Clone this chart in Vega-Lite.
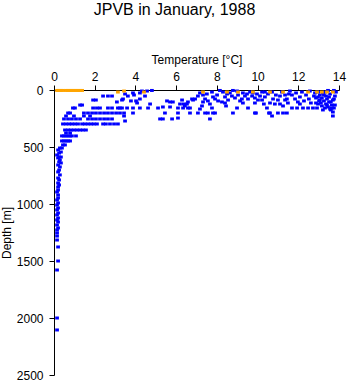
{
"$schema": "https://vega.github.io/schema/vega-lite/v6.json",
"width": 285, "height": 285,
"autosize": "none",
"padding": {"left": 54, "top": 90, "right": 9, "bottom": 9},
"background": "white",
"title": {"text": "JPVB in January, 1988", "font": "Liberation Sans", "fontSize": 16, "fontWeight": "normal", "color": "black", "anchor": "middle", "frame": "group", "dx": -22, "offset": 35},
"config": {"view": {"stroke": null}, "axis": {"grid": false, "domainColor": "black", "tickColor": "black", "labelColor": "black", "titleColor": "black", "labelFont": "Liberation Sans", "titleFont": "Liberation Sans", "labelFontSize": 12, "titleFontSize": 12, "titleFontWeight": "normal", "tickSize": 5, "domainWidth": 1, "tickWidth": 1}},
"data": {"values": [
{"T":0.29,"D":509,"c":"b"},{"T":0.39,"D":509,"c":"b"},{"T":0.20,"D":526,"c":"b"},{"T":0.34,"D":544,"c":"b"},{"T":0.25,"D":553,"c":"b"},{"T":0.15,"D":570,"c":"b"},{"T":0.25,"D":588,"c":"b"},{"T":0.34,"D":588,"c":"b"},{"T":0.20,"D":596,"c":"b"},{"T":0.29,"D":614,"c":"b"},{"T":0.25,"D":631,"c":"b"},{"T":0.34,"D":640,"c":"b"},{"T":0.20,"D":658,"c":"b"},{"T":0.29,"D":675,"c":"b"},{"T":0.25,"D":702,"c":"b"},{"T":0.20,"D":719,"c":"b"},{"T":0.29,"D":745,"c":"b"},{"T":0.20,"D":772,"c":"b"},{"T":0.25,"D":789,"c":"b"},{"T":0.20,"D":816,"c":"b"},{"T":0.25,"D":833,"c":"b"},{"T":0.20,"D":851,"c":"b"},{"T":0.20,"D":877,"c":"b"},{"T":0.15,"D":895,"c":"b"},{"T":0.20,"D":921,"c":"b"},{"T":0.20,"D":947,"c":"b"},{"T":0.15,"D":965,"c":"b"},{"T":0.20,"D":991,"c":"b"},{"T":0.15,"D":1009,"c":"b"},{"T":0.20,"D":1035,"c":"b"},{"T":0.15,"D":1052,"c":"b"},{"T":0.20,"D":1079,"c":"b"},{"T":0.15,"D":1096,"c":"b"},{"T":0.20,"D":1123,"c":"b"},{"T":0.15,"D":1140,"c":"b"},{"T":0.20,"D":1158,"c":"b"},{"T":0.15,"D":1184,"c":"b"},{"T":0.20,"D":1210,"c":"b"},{"T":0.15,"D":1228,"c":"b"},{"T":0.15,"D":1254,"c":"b"},{"T":0.15,"D":1281,"c":"b"},{"T":0.15,"D":1316,"c":"b"},{"T":0.20,"D":1377,"c":"b"},{"T":0.20,"D":1500,"c":"b"},{"T":0.15,"D":1579,"c":"b"},{"T":0.15,"D":2000,"c":"b"},{"T":0.15,"D":2105,"c":"b"},
{"T":0.39,"D":447,"c":"b"},{"T":0.49,"D":447,"c":"b"},{"T":0.59,"D":447,"c":"b"},{"T":0.69,"D":447,"c":"b"},{"T":0.79,"D":447,"c":"b"},{"T":0.44,"D":482,"c":"b"},{"T":0.54,"D":482,"c":"b"},{"T":0.39,"D":403,"c":"b"},{"T":0.49,"D":403,"c":"b"},{"T":0.59,"D":403,"c":"b"},{"T":0.69,"D":403,"c":"b"},{"T":0.79,"D":403,"c":"b"},{"T":0.88,"D":403,"c":"b"},{"T":1.08,"D":403,"c":"b"},
{"T":0.54,"D":351,"c":"b"},{"T":0.69,"D":351,"c":"b"},{"T":0.83,"D":351,"c":"b"},{"T":0.98,"D":351,"c":"b"},{"T":1.13,"D":351,"c":"b"},{"T":1.28,"D":351,"c":"b"},{"T":1.42,"D":351,"c":"b"},{"T":1.57,"D":351,"c":"b"},{"T":0.59,"D":377,"c":"b"},{"T":0.79,"D":377,"c":"b"},
{"T":0.44,"D":298,"c":"b"},{"T":0.59,"D":298,"c":"b"},{"T":0.74,"D":298,"c":"b"},{"T":0.88,"D":298,"c":"b"},{"T":1.03,"D":298,"c":"b"},{"T":1.18,"D":298,"c":"b"},{"T":1.38,"D":298,"c":"b"},{"T":1.52,"D":298,"c":"b"},{"T":1.67,"D":298,"c":"b"},{"T":1.82,"D":298,"c":"b"},{"T":1.96,"D":298,"c":"b"},{"T":2.11,"D":298,"c":"b"},{"T":2.41,"D":298,"c":"b"},{"T":2.55,"D":298,"c":"b"},{"T":2.75,"D":298,"c":"b"},{"T":2.95,"D":298,"c":"b"},{"T":3.14,"D":298,"c":"b"},
{"T":0.49,"D":254,"c":"b"},{"T":0.69,"D":254,"c":"b"},{"T":0.88,"D":254,"c":"b"},{"T":1.08,"D":254,"c":"b"},{"T":1.28,"D":254,"c":"b"},{"T":1.67,"D":254,"c":"b"},{"T":1.87,"D":254,"c":"b"},{"T":2.06,"D":254,"c":"b"},{"T":2.26,"D":254,"c":"b"},{"T":2.46,"D":254,"c":"b"},{"T":2.65,"D":254,"c":"b"},{"T":2.85,"D":254,"c":"b"},
{"T":0.59,"D":228,"c":"b"},{"T":0.98,"D":228,"c":"b"},{"T":1.47,"D":228,"c":"b"},{"T":1.77,"D":228,"c":"b"},{"T":3.44,"D":228,"c":"b"},{"T":3.49,"D":272,"c":"b"},
{"T":0.69,"D":202,"c":"b"},{"T":0.79,"D":202,"c":"b"},{"T":1.47,"D":202,"c":"b"},{"T":1.67,"D":202,"c":"b"},{"T":1.87,"D":202,"c":"b"},{"T":2.06,"D":202,"c":"b"},{"T":2.26,"D":202,"c":"b"},{"T":2.46,"D":202,"c":"b"},{"T":2.65,"D":202,"c":"b"},{"T":2.85,"D":202,"c":"b"},{"T":3.05,"D":202,"c":"b"},{"T":3.24,"D":202,"c":"b"},{"T":3.44,"D":202,"c":"b"},{"T":3.88,"D":202,"c":"b"},
{"T":0.93,"D":158,"c":"b"},{"T":1.03,"D":158,"c":"b"},{"T":1.92,"D":158,"c":"b"},{"T":2.11,"D":158,"c":"b"},{"T":2.26,"D":158,"c":"b"},{"T":2.65,"D":158,"c":"b"},{"T":2.85,"D":158,"c":"b"},{"T":3.14,"D":158,"c":"b"},{"T":3.34,"D":158,"c":"b"},
{"T":1.28,"D":132,"c":"b"},{"T":1.38,"D":132,"c":"b"},{"T":1.92,"D":88,"c":"b"},{"T":2.06,"D":88,"c":"b"},{"T":3.34,"D":88,"c":"b"},{"T":3.09,"D":105,"c":"b"},{"T":2.41,"D":53,"c":"b"},{"T":2.65,"D":53,"c":"b"},{"T":2.85,"D":53,"c":"b"},{"T":3.63,"D":53,"c":"b"},{"T":3.39,"D":79,"c":"b"},
{"T":3.88,"D":26,"c":"b"},{"T":4.22,"D":26,"c":"b"},{"T":4.32,"D":9,"c":"b"},{"T":4.57,"D":9,"c":"b"},{"T":4.81,"D":4,"c":"b"},{"T":3.49,"D":35,"c":"b"},{"T":3.93,"D":44,"c":"b"},{"T":4.47,"D":53,"c":"b"},{"T":4.22,"D":79,"c":"b"},{"T":4.03,"D":96,"c":"b"},{"T":3.78,"D":96,"c":"b"},{"T":4.08,"D":114,"c":"b"},{"T":4.72,"D":123,"c":"b"},
{"T":3.24,"D":158,"c":"b"},{"T":3.59,"D":158,"c":"b"},{"T":3.88,"D":158,"c":"b"},{"T":4.22,"D":158,"c":"b"},{"T":4.62,"D":158,"c":"b"},{"T":5.11,"D":158,"c":"b"},{"T":5.35,"D":149,"c":"b"},{"T":5.70,"D":149,"c":"b"},{"T":6.09,"D":158,"c":"b"},{"T":6.43,"D":140,"c":"b"},{"T":6.68,"D":158,"c":"b"},
{"T":5.55,"D":96,"c":"b"},{"T":5.70,"D":105,"c":"b"},{"T":5.84,"D":105,"c":"b"},{"T":6.29,"D":88,"c":"b"},{"T":6.58,"D":105,"c":"b"},{"T":6.83,"D":88,"c":"b"},{"T":5.45,"D":202,"c":"b"},{"T":6.09,"D":202,"c":"b"},{"T":6.68,"D":202,"c":"b"},{"T":5.21,"D":254,"c":"b"},{"T":5.35,"D":254,"c":"b"},{"T":5.80,"D":254,"c":"b"},{"T":6.09,"D":246,"c":"b"},
{"T":6.78,"D":79,"c":"b"},{"T":6.93,"D":79,"c":"b"},{"T":7.07,"D":53,"c":"b"},{"T":7.17,"D":26,"c":"b"},{"T":7.32,"D":44,"c":"b"},{"T":7.42,"D":79,"c":"b"},{"T":7.32,"D":105,"c":"b"},{"T":7.27,"D":140,"c":"b"},{"T":7.17,"D":167,"c":"b"},{"T":7.07,"D":202,"c":"b"},{"T":7.42,"D":202,"c":"b"},{"T":7.81,"D":202,"c":"b"},{"T":7.76,"D":158,"c":"b"},{"T":7.66,"D":254,"c":"b"},{"T":7.56,"D":96,"c":"b"},{"T":7.91,"D":79,"c":"b"},
{"T":8.15,"D":4,"c":"b"},{"T":8.30,"D":18,"c":"b"},{"T":8.50,"D":35,"c":"b"},{"T":8.64,"D":26,"c":"b"},{"T":8.74,"D":53,"c":"b"},{"T":8.55,"D":88,"c":"b"},{"T":8.25,"D":105,"c":"b"},{"T":8.06,"D":96,"c":"b"},{"T":8.40,"D":114,"c":"b"},{"T":8.89,"D":70,"c":"b"},{"T":9.14,"D":96,"c":"b"},{"T":9.04,"D":44,"c":"b"},{"T":8.79,"D":4,"c":"b"},{"T":9.38,"D":53,"c":"b"},{"T":9.53,"D":79,"c":"b"},{"T":9.63,"D":18,"c":"b"},{"T":9.77,"D":26,"c":"b"},{"T":9.87,"D":70,"c":"b"},{"T":10.02,"D":88,"c":"b"},{"T":10.12,"D":53,"c":"b"},{"T":10.22,"D":18,"c":"b"},{"T":9.87,"D":114,"c":"b"},{"T":8.79,"D":202,"c":"b"},{"T":8.99,"D":158,"c":"b"},{"T":9.53,"D":158,"c":"b"},{"T":9.87,"D":202,"c":"b"},{"T":9.28,"D":26,"c":"b"},
{"T":10.22,"D":88,"c":"b"},{"T":10.36,"D":61,"c":"b"},{"T":10.51,"D":35,"c":"b"},{"T":10.31,"D":123,"c":"b"},{"T":10.46,"D":158,"c":"b"},{"T":10.56,"D":202,"c":"b"},{"T":10.71,"D":228,"c":"b"},{"T":10.85,"D":123,"c":"b"},{"T":11.0,"D":88,"c":"b"},{"T":11.1,"D":53,"c":"b"},{"T":11.2,"D":18,"c":"b"},{"T":11.35,"D":44,"c":"b"},{"T":11.44,"D":79,"c":"b"},{"T":11.49,"D":114,"c":"b"},{"T":11.25,"D":140,"c":"b"},{"T":11.1,"D":123,"c":"b"},{"T":11.0,"D":202,"c":"b"},{"T":11.25,"D":202,"c":"b"},{"T":11.59,"D":9,"c":"b"},{"T":11.69,"D":44,"c":"b"},{"T":11.69,"D":158,"c":"b"},{"T":11.94,"D":158,"c":"b"},{"T":11.84,"D":79,"c":"b"},{"T":12.08,"D":61,"c":"b"},{"T":11.98,"D":105,"c":"b"},{"T":12.23,"D":158,"c":"b"},{"T":12.48,"D":158,"c":"b"},{"T":12.72,"D":158,"c":"b"},{"T":12.38,"D":44,"c":"b"},{"T":12.52,"D":79,"c":"b"},{"T":12.62,"D":114,"c":"b"},{"T":12.57,"D":9,"c":"b"},
{"T":12.82,"D":26,"c":"b"},{"T":12.97,"D":18,"c":"b"},{"T":13.06,"D":44,"c":"b"},{"T":13.16,"D":70,"c":"b"},{"T":13.26,"D":96,"c":"b"},{"T":13.36,"D":123,"c":"b"},{"T":13.46,"D":149,"c":"b"},{"T":13.56,"D":167,"c":"b"},{"T":13.70,"D":193,"c":"b"},{"T":13.65,"D":158,"c":"b"},{"T":13.80,"D":132,"c":"b"},{"T":13.70,"D":88,"c":"b"},{"T":13.80,"D":53,"c":"b"},{"T":13.85,"D":18,"c":"b"},{"T":13.56,"D":35,"c":"b"},{"T":13.31,"D":18,"c":"b"},{"T":13.06,"D":88,"c":"b"},{"T":12.97,"D":123,"c":"b"},{"T":12.87,"D":70,"c":"b"},{"T":13.16,"D":140,"c":"b"},{"T":13.41,"D":79,"c":"b"},{"T":13.60,"D":105,"c":"b"},{"T":13.75,"D":4,"c":"b"},{"T":13.46,"D":4,"c":"b"},{"T":12.92,"D":158,"c":"b"},{"T":13.21,"D":175,"c":"b"},{"T":13.70,"D":228,"c":"b"},
{"T":6.19,"D":123,"c":"b"},{"T":6.38,"D":123,"c":"b"},{"T":6.53,"D":123,"c":"b"},{"T":6.34,"D":158,"c":"b"},{"T":6.58,"D":158,"c":"b"},{"T":7.56,"D":202,"c":"b"},{"T":7.91,"D":202,"c":"b"},{"T":9.92,"D":202,"c":"b"},{"T":10.61,"D":202,"c":"b"},{"T":11.44,"D":202,"c":"b"},
{"T":12.77,"D":53,"c":"b"},{"T":13.02,"D":96,"c":"b"},{"T":13.26,"D":44,"c":"b"},{"T":13.51,"D":61,"c":"b"},{"T":13.75,"D":79,"c":"b"},{"T":13.11,"D":114,"c":"b"},{"T":13.41,"D":132,"c":"b"},{"T":13.65,"D":132,"c":"b"},{"T":12.97,"D":61,"c":"b"},{"T":13.21,"D":26,"c":"b"},{"T":13.51,"D":105,"c":"b"},{"T":13.36,"D":53,"c":"b"},{"T":13.75,"D":158,"c":"b"},{"T":13.60,"D":175,"c":"b"},{"T":13.31,"D":158,"c":"b"},{"T":12.87,"D":114,"c":"b"},
{"T":7.51,"D":35,"c":"b"},{"T":7.76,"D":18,"c":"b"},{"T":8.01,"D":44,"c":"b"},{"T":8.40,"D":61,"c":"b"},{"T":8.99,"D":9,"c":"b"},{"T":9.23,"D":79,"c":"b"},{"T":9.48,"D":35,"c":"b"},{"T":9.73,"D":53,"c":"b"},{"T":9.97,"D":35,"c":"b"},{"T":7.81,"D":61,"c":"b"},{"T":7.66,"D":123,"c":"b"},{"T":8.45,"D":140,"c":"b"},{"T":9.28,"D":114,"c":"b"},{"T":10.36,"D":18,"c":"b"},{"T":10.71,"D":18,"c":"b"},{"T":10.90,"D":44,"c":"b"},{"T":10.76,"D":79,"c":"b"},{"T":10.61,"D":114,"c":"b"},{"T":11.35,"D":88,"c":"b"},{"T":11.54,"D":35,"c":"b"},{"T":11.89,"D":26,"c":"b"},{"T":12.18,"D":18,"c":"b"},{"T":12.28,"D":96,"c":"b"},{"T":12.08,"D":123,"c":"b"},
{"T":0.15,"D":4,"c":"o"},{"T":0.25,"D":4,"c":"o"},{"T":0.34,"D":4,"c":"o"},{"T":0.44,"D":4,"c":"o"},{"T":0.59,"D":4,"c":"o"},{"T":0.69,"D":4,"c":"o"},{"T":0.79,"D":4,"c":"o"},{"T":0.88,"D":4,"c":"o"},{"T":0.98,"D":4,"c":"o"},{"T":1.08,"D":4,"c":"o"},{"T":1.18,"D":4,"c":"o"},{"T":1.28,"D":4,"c":"o"},{"T":1.38,"D":4,"c":"o"},
{"T":3.14,"D":18,"c":"o"},{"T":3.44,"D":9,"c":"o"},{"T":4.42,"D":18,"c":"o"},{"T":7.32,"D":18,"c":"o"},{"T":8.50,"D":18,"c":"o"},{"T":9.04,"D":18,"c":"o"},{"T":9.77,"D":18,"c":"o"},{"T":10.61,"D":18,"c":"o"},{"T":11.25,"D":18,"c":"o"},{"T":12.48,"D":18,"c":"o"},{"T":12.92,"D":18,"c":"o"},{"T":13.16,"D":18,"c":"o"},{"T":13.41,"D":18,"c":"o"},{"T":13.70,"D":18,"c":"o"}
]},
"mark": {"type": "point", "shape": "M-1,-0.8H1V0.8H-1Z", "filled": true, "size": 14, "opacity": 1, "strokeWidth": 0},
"encoding": {
"x": {"field": "T", "type": "quantitative", "scale": {"domain": [0, 14], "nice": false, "zero": false}, "axis": {"orient": "top", "title": "Temperature [°C]", "values": [0,2,4,6,8,10,12,14], "labelPadding": 2, "titlePadding": 4, "labelFlush": false}},
"y": {"field": "D", "type": "quantitative", "scale": {"domain": [0, 2500], "nice": false, "reverse": true}, "axis": {"title": "Depth [m]", "format": "d", "values": [0,500,1000,1500,2000,2500], "labelPadding": 6, "titlePadding": 3, "labelFlush": false}},
"color": {"field": "c", "type": "nominal", "scale": {"domain": ["b", "o"], "range": ["#0000ff", "#ffa500"]}, "legend": null}
}
}
